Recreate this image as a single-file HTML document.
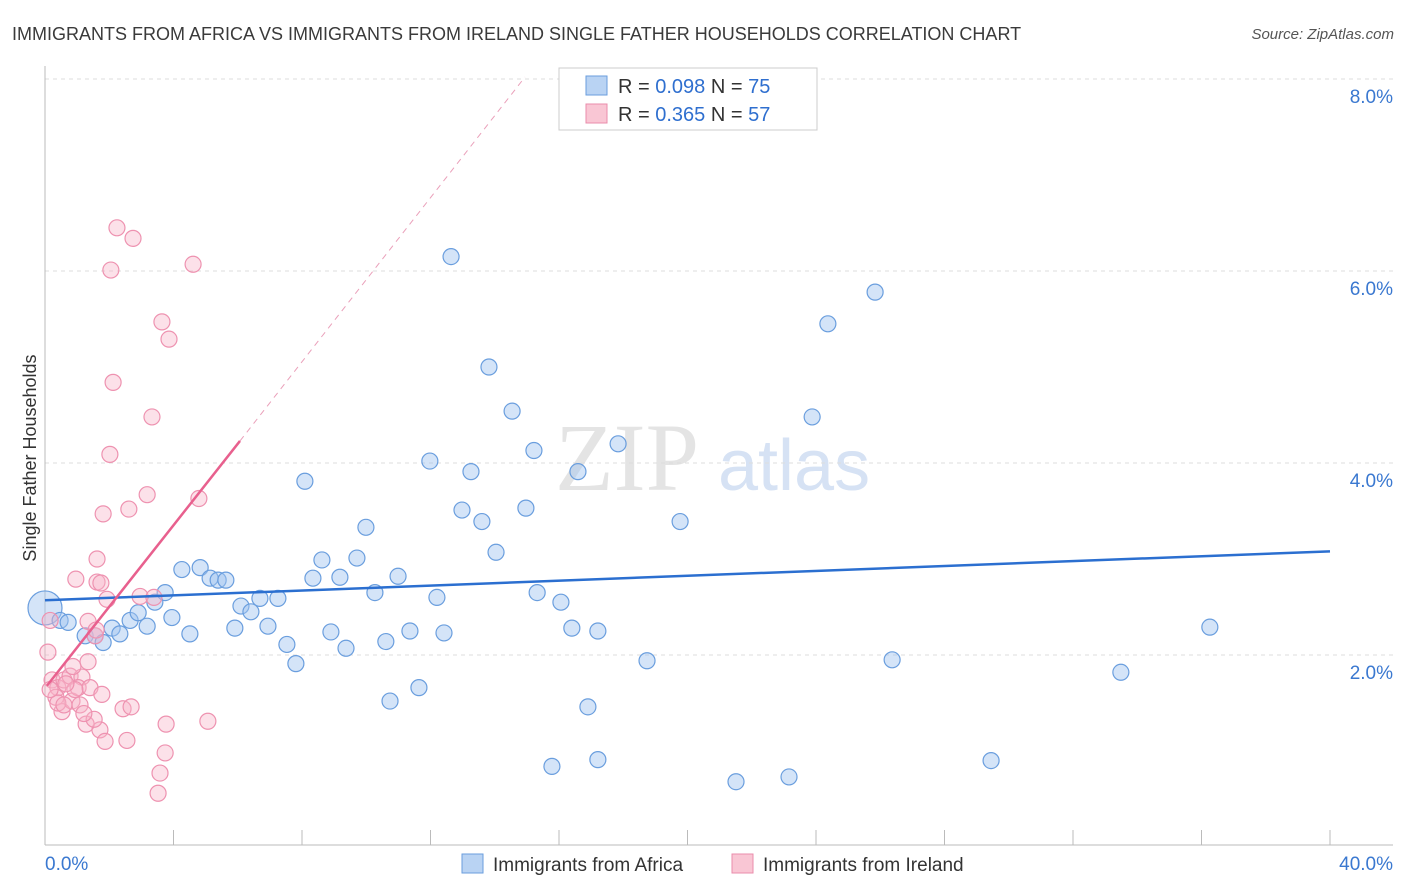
<!DOCTYPE html>
<html><head><meta charset="utf-8"><style>
body{margin:0;background:#fff;font-family:"Liberation Sans",sans-serif;}
svg{display:block}
</style></head><body>
<svg id="chart" width="1406" height="892">
<text x="12" y="40" font-size="18" fill="#3a3a3a">IMMIGRANTS FROM AFRICA VS IMMIGRANTS FROM IRELAND SINGLE FATHER HOUSEHOLDS CORRELATION CHART</text>
<text x="1394" y="39" font-size="15" fill="#555" font-style="italic" text-anchor="end">Source: ZipAtlas.com</text>
<text x="36" y="458" font-size="18" fill="#333" text-anchor="middle" transform="rotate(-90 36 458)">Single Father Households</text>
<text x="555" y="490" font-size="96" fill="#e4e4e4" font-family="Liberation Serif">ZIP</text>
<text x="718" y="490" font-size="72" fill="#d6e2f4">atlas</text>
<g id="grid"></g>
<g id="axes"></g>
<g id="pts"></g>
<g id="trend"></g>
<g>
<rect x="559" y="68" width="258" height="62" fill="#fff" stroke="#ccc"/>
<rect x="586" y="76" width="21" height="19" fill="#b9d3f3" stroke="#6a9ede"/>
<rect x="586" y="104" width="21" height="19" fill="#f9c6d4" stroke="#ea8cab"/>
<text x="618" y="93" font-size="20" fill="#333">R = <tspan fill="#2f6fcf">0.098</tspan>   N = <tspan fill="#2f6fcf">75</tspan></text>
<text x="618" y="121" font-size="20" fill="#333">R =  <tspan fill="#2f6fcf">0.365</tspan>   N = <tspan fill="#2f6fcf">57</tspan></text>
</g>
<g>
<rect x="462" y="854" width="21" height="19" fill="#b9d3f3" stroke="#6a9ede"/>
<text x="493" y="871" font-size="19" fill="#333">Immigrants from Africa</text>
<rect x="732" y="854" width="21" height="19" fill="#f9c6d4" stroke="#ea8cab"/>
<text x="763" y="871" font-size="19" fill="#333">Immigrants from Ireland</text>
</g>
</svg>
<script>
const yTicks=[2,4,6,8];
const xTickLabels=["0.0%","40.0%"];
const africaX=[0,0.47,0.72,1.25,1.56,1.81,2.09,2.33,2.65,2.90,3.18,3.42,3.74,3.95,4.26,4.51,4.83,5.14,5.39,5.63,5.91,6.10,6.41,6.69,6.94,7.25,7.53,7.81,8.09,8.34,8.62,8.90,9.18,9.37,9.71,9.99,10.27,10.61,10.74,10.99,11.36,11.64,11.98,12.20,12.42,12.98,13.26,13.60,13.82,14.04,14.54,14.97,15.22,15.32,15.78,16.06,16.40,16.59,16.90,17.21,17.21,17.84,18.74,19.77,21.51,23.16,23.88,24.37,25.84,26.37,29.45,33.49,36.26,12.64];
const africaY=[2.49,2.36,2.34,2.20,2.20,2.13,2.28,2.22,2.36,2.44,2.30,2.55,2.65,2.39,2.89,2.22,2.91,2.80,2.78,2.78,2.28,2.51,2.45,2.59,2.30,2.59,2.11,1.91,3.81,2.80,2.99,2.24,2.81,2.07,3.01,3.33,2.65,2.14,1.52,2.82,2.25,1.66,4.02,2.60,2.23,3.51,3.91,3.39,5.00,3.07,4.54,3.53,4.13,2.65,0.84,2.55,2.28,3.91,1.46,2.25,0.91,4.20,1.94,3.39,0.68,0.73,4.48,5.45,5.78,1.95,0.90,1.82,2.29,6.15];
const irelandX=[2.24,2.74,2.05,4.61,3.64,3.86,2.12,3.33,2.02,3.18,4.79,1.81,2.61,1.62,0.96,1.62,1.74,1.93,2.96,3.39,1.34,1.56,0.16,0.09,0.22,0.40,0.59,0.78,1.15,0.34,0.53,0.84,1.03,1.09,1.40,1.77,0.87,1.34,0.40,1.71,1.28,1.53,1.87,1.21,2.55,2.43,2.68,3.77,5.07,3.74,3.58,3.52,0.16,0.59,0.93,0.65,1.59];
const irelandY=[6.45,6.34,6.01,6.07,5.47,5.29,4.84,4.48,4.09,3.67,3.63,3.47,3.52,3.00,2.79,2.76,2.75,2.58,2.61,2.60,2.35,2.20,2.36,2.03,1.74,1.66,1.74,1.78,1.77,1.56,1.41,1.52,1.66,1.48,1.66,1.59,1.88,1.93,1.50,1.22,1.28,1.33,1.10,1.39,1.11,1.44,1.46,1.28,1.31,0.98,0.77,0.56,1.64,1.48,1.64,1.70,2.26];
const africaTrend=[[0,2.57],[40,3.08]];
const irelandTrend=[[0.06,1.68],[6.07,4.23]];
const irelandDash=[[6.07,4.23],[14.94,8.02]];
const NS="http://www.w3.org/2000/svg";
const sx=v=>45+v*32.125, sy=v=>847-v*96;
function mk(tag,attrs,parent){const e=document.createElementNS(NS,tag);for(const k in attrs)e.setAttribute(k,attrs[k]);document.getElementById(parent).appendChild(e);return e;}
yTicks.forEach(t=>{
 const l=mk('line',{x1:45,x2:1393,y1:sy(t),y2:sy(t),stroke:'#ddd','stroke-dasharray':'4,4'},'grid');
 
 
 const tx=mk('text',{x:1393,y:sy(t)+24,'font-size':19,fill:'#3a78d0','text-anchor':'end'},'grid');
 tx.textContent=t.toFixed(1)+'%';
 
 
});
const ax=mk('line',{x1:45,x2:45,y1:66,y2:845,stroke:'#bbb'},'axes');


const bx=mk('line',{x1:45,x2:1393,y1:845,y2:845,stroke:'#bbb'},'axes');


for(let i=0;i<=10;i++){const t=mk('line',{x1:sx(i*4),x2:sx(i*4),y1:830,y2:845,stroke:'#bbb'},'axes');
 
 }
xTickLabels.forEach((s,i)=>{const t=mk('text',{x:i?1393:45,y:870,'font-size':19,fill:'#3a78d0','text-anchor':i?'end':'start'},'axes');t.textContent=s;
 
 });
africaX.forEach((x,i)=>{const c=mk('circle',{cx:sx(x),cy:sy(africaY[i]),r:i==0?17:8,fill:'rgba(160,195,240,0.45)',stroke:'#6a9ede','stroke-width':1.2},'pts');
 
 });
irelandX.forEach((x,i)=>{const c=mk('circle',{cx:sx(x),cy:sy(irelandY[i]),r:8,fill:'rgba(248,180,200,0.4)',stroke:'#ee92b0','stroke-width':1.2},'pts');
 
 });
const t1=mk('line',{x1:sx(africaTrend[0][0]),y1:sy(africaTrend[0][1]),x2:sx(africaTrend[1][0]),y2:sy(africaTrend[1][1]),stroke:'#2b6fd0','stroke-width':2.5},'trend');


const t2=mk('line',{x1:sx(irelandTrend[0][0]),y1:sy(irelandTrend[0][1]),x2:sx(irelandTrend[1][0]),y2:sy(irelandTrend[1][1]),stroke:'#e8608e','stroke-width':2.5},'trend');


const t3=mk('line',{x1:sx(irelandDash[0][0]),y1:sy(irelandDash[0][1]),x2:sx(irelandDash[1][0]),y2:sy(irelandDash[1][1]),stroke:'#eaa0ba','stroke-width':1,'stroke-dasharray':'6,5'},'trend');


</script>
</body></html>
